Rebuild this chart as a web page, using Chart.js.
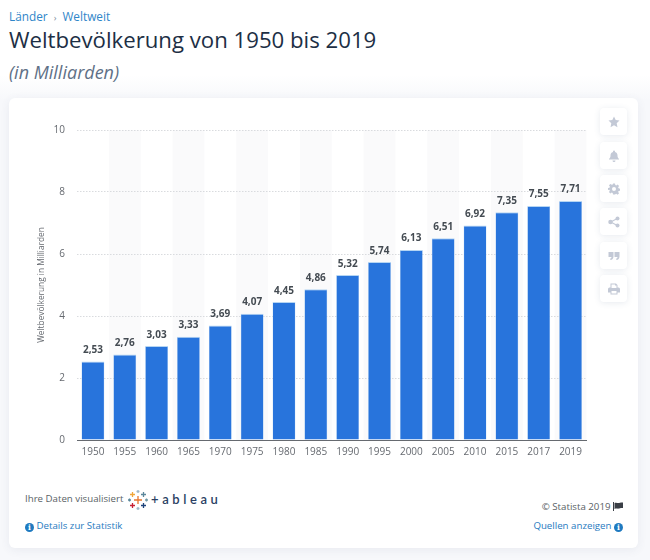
<!DOCTYPE html>
<html lang="de">
<head>
<meta charset="utf-8">
<title>Weltbevölkerung von 1950 bis 2019</title>
<script src="https://cdn.jsdelivr.net/npm/chart.js@4"></script>
<style>
  html, body { margin: 0; padding: 0; }
  body { width: 650px; height: 560px; position: relative; overflow: hidden; font-family: "Open Sans", sans-serif;
         background: linear-gradient(#fff 0, #fff 75px, #f7f8fb 100px); }
  .abs { position: absolute; white-space: nowrap; }
  #crumb { left: 9px; top: 8px; font-size: 11.8px; line-height: 16px; color: #2f86c9; }
  #crumb span { color: #7c8a9c; font-size: 9px; padding: 0 3px; }
  #titel { left: 9px; top: 24px; font-size: 22.2px; font-weight: 500; line-height: 32px; color: #1d2f45; }
  #unter { left: 9px; top: 60px; font-size: 18px; line-height: 24px; font-style: italic; color: #607086; }
  #card { left: 9px; top: 98px; width: 629px; height: 450px; background: #fff; border-radius: 6px;
          box-shadow: 0 2px 10px rgba(60,80,120,.08); }
  #wrap { position: absolute; left: 20px; top: 112px; width: 568px; height: 358px; }
  .btn { position: absolute; left: 600px; width: 27px; height: 27px; background: #fff; border-radius: 4px;
         box-shadow: 0 1px 6px rgba(60,80,120,.12); }
  .btn svg { position: absolute; left: 7.5px; top: 7.5px; width: 12px; height: 12px; fill: #c3c9d6; }
  .foot { font-size: 9.7px; line-height: 12px; color: #5a5f66; }
  .link { font-size: 9.7px; line-height: 12px; color: #1f7ac0; }
  .info { display: inline-block; width: 9px; height: 9px; border-radius: 50%; background: #1f7ac0; color: #fff;
          font: bold 7.5px/9px "DejaVu Serif", serif; text-align: center; vertical-align: -1px; }
  #tab { left: 151px; top: 491px; font: 600 13px/16px "Lato", sans-serif; letter-spacing: 3.6px; color: #2b3f63; }
</style>
</head>
<body>
<div class="abs" id="crumb">Länder <span>›</span> Weltweit</div>
<div class="abs" id="titel">Weltbevölkerung von 1950 bis 2019</div>
<div class="abs" id="unter">(in Milliarden)</div>
<div class="abs" id="card"></div>

<div id="wrap"><canvas id="grafik"></canvas></div>

<div class="btn" style="top:108px"><svg viewBox="0 0 24 24"><path d="M12 1l3.4 7.2 7.6 1-5.600 5.300 1.500 7.800L12 18.500 5.100 22.300l1.500-7.800L1 9.200l7.600-1z"/></svg></div>
<div class="btn" style="top:142px"><svg viewBox="0 0 24 24"><path d="M12 1a2 2 0 0 1 2 2v1c3.500.9 5 3.800 5 7 0 3.500 1 5 3 7v1H2v-1c2-2 3-3.500 3-7 0-3.200 1.500-6.100 5-7V3a2 2 0 0 1 2-2zM9 21h6a3 3 0 0 1-6 0z"/></svg></div>
<div class="btn" style="top:175px"><svg viewBox="0 0 24 24"><path fill-rule="evenodd" d="M10 1h4l.6 3.200 2 .8 2.700-1.800 2.800 2.800-1.800 2.700.8 2 3 .6v4l-3 .6-.8 2 1.800 2.700-2.800 2.800-2.700-1.800-2 .8L14 23h-4l-.6-3.200-2-.8-2.700 1.800-2.800-2.800 1.800-2.700-.8-2L0 14v-4l3-.6.8-2L2 4.700 4.800 1.900l2.700 1.800 2-.8zM12 8a4 4 0 1 0 0 8 4 4 0 0 0 0-8z"/></svg></div>
<div class="btn" style="top:208px"><svg viewBox="0 0 24 24"><circle cx="19" cy="5" r="4"/><circle cx="19" cy="19" r="4"/><circle cx="5" cy="12" r="4.500"/><path d="M5 11l13-7 1 2-13 7zM6 11l13 7-1 2-13-7z"/></svg></div>
<div class="btn" style="top:242px"><svg viewBox="0 0 24 24"><path d="M1 4h10v9c0 4-2.500 6.500-6 7l-1-2.500c2-.5 3-1.800 3-3.500H1zM13 4h10v9c0 4-2.500 6.500-6 7l-1-2.500c2-.5 3-1.800 3-3.500h-6z"/></svg></div>
<div class="btn" style="top:275px"><svg viewBox="0 0 24 24"><path fill-rule="evenodd" d="M5 1h11l3 3v5h2a3 3 0 0 1 3 3v7h-5v4H5v-4H0v-7a3 3 0 0 1 3-3h2zM7 3v7h10V5h-3V3zM7 16v5h10v-5z"/></svg></div>

<div class="abs foot" style="left:25px;top:493px">Ihre Daten visualisiert</div>
<svg class="abs" style="left:128px;top:490px" width="20" height="20" viewBox="0 0 20 20" stroke-width="1.300" fill="none">
  <path stroke="#e8762d" d="M10 6v8M6 10h8"/>
  <path stroke="#f0a63a" d="M4.500 2v5M2 4.500h5"/>
  <path stroke="#c72035" d="M4.500 13v5M2 15.500h5"/>
  <path stroke="#5b879b" d="M15.500 2v5M13 4.500h5"/>
  <path stroke="#1f447b" d="M15.500 13v5M13 15.500h5"/>
  <path stroke="#9fb8c8" d="M10 0v3M8.500 1.500h3M10 17v3M8.500 18.500h3"/>
  <path stroke="#7099a6" d="M18.500 8.500v3M17 10h3"/>
  <path stroke="#59879b" d="M1.500 8.500v3M0 10h3"/>
</svg>
<div class="abs" id="tab">+ableau</div>

<div class="abs link" style="left:25px;top:520px"><span class="info">i</span> Details zur Statistik</div>
<div class="abs foot" style="right:27px;top:501px">© Statista 2019 <svg width="10" height="9" viewBox="0 0 10 9" style="vertical-align:-1px"><path fill="#3a3f46" d="M0 0h1v9H0zM1.500 1c2-1 3 .5 4.500 0s2.500-.5 4-.5V6c-1.500 0-2.500 0-4 .5S3.500 6 1.500 7z"/></svg></div>
<div class="abs link" style="right:27px;top:520px">Quellen anzeigen <span class="info">i</span></div>

<script>
// Daten
const jahre = ['1950','1955','1960','1965','1970','1975','1980','1985','1990','1995','2000','2005','2010','2015','2017','2019'];
const werte = [2.53,2.76,3.03,3.33,3.69,4.07,4.45,4.86,5.32,5.74,6.13,6.51,6.92,7.35,7.55,7.71];
const achsenTitel = 'Weltbevölkerung in Milliarden';

const schrift = '"Open Sans", sans-serif';

// graue Streifen hinter jeder zweiten Kategorie, vor dem Gitter gezeichnet
const streifen = {
    id: 'streifen',
    beforeDraw(chart) {
        const { ctx, chartArea, scales } = chart;
        const breite = scales.x.width / jahre.length;
        ctx.save();
        ctx.fillStyle = '#fafafb';
        jahre.forEach((jahr, i) => {
            if (i % 2 === 1) {
                ctx.fillRect(scales.x.getPixelForValue(i) - breite / 2, chartArea.top, breite, chartArea.height);
            }
        });
        ctx.restore();
    }
};

// Werte ueber den Balken, mit Komma
const werteText = {
    id: 'werteText',
    afterDatasetsDraw(chart) {
        const { ctx } = chart;
        ctx.save();
        ctx.font = 'bold 10px ' + schrift;
        ctx.fillStyle = '#444b52';
        ctx.textAlign = 'center';
        ctx.textBaseline = 'alphabetic';
        chart.getDatasetMeta(0).data.forEach((balken, i) => {
            ctx.fillText(werte[i].toFixed(2).replace('.', ','), balken.x, balken.y - 8.5);
        });
        ctx.restore();
    }
};

new Chart(document.getElementById('grafik'), {
    type: 'bar',
    data: {
        labels: jahre,
        datasets: [{
            data: werte,
            backgroundColor: '#2874dc',
            borderColor: '#b5d5f3',
            borderWidth: { top: 1, left: 0.5, right: 0.5, bottom: 0 },
            categoryPercentage: 0.72,
            barPercentage: 1
        }]
    },
    plugins: [streifen, werteText],
    options: {
        responsive: true,
        maintainAspectRatio: false,
        animation: false,
        layout: { padding: { top: 3 } },
        plugins: { legend: { display: false }, tooltip: { enabled: false } },
        scales: {
            x: {
                afterFit(scale) { scale.height = 30; },
                grid: { display: false, drawTicks: false },
                border: { color: '#666a70', width: 1 },
                ticks: { color: '#666a70', font: { family: schrift, size: 10 }, padding: 6, maxRotation: 0, autoSkip: false }
            },
            y: {
                min: 0,
                max: 10,
                afterFit(scale) { scale.width = 57; },
                grid: { color: '#d9dbde', drawTicks: false },
                border: { display: false, dash: [1.5, 1.5] },
                ticks: { stepSize: 2, color: '#666a70', font: { family: schrift, size: 10 }, padding: 12 },
                title: { display: true, text: achsenTitel, color: '#666a70', font: { family: schrift, size: 8.3 }, padding: { top: 17, bottom: 0 } }
            }
        }
    }
});
</script>
</body>
</html>
